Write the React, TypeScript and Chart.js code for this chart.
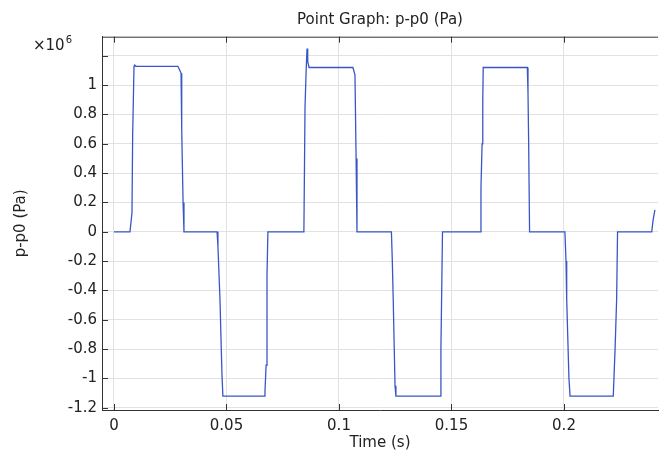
import React, { useEffect, useRef } from "react";
import { Chart, registerables } from "chart.js";

Chart.register(...registerables);

const times = [
  0, 0.0071, 0.008, 0.0083, 0.0089, 0.0093, 0.0098, 0.0284, 0.0293, 0.0298, 0.03, 0.0302, 0.0307, 0.0311,
  0.0458, 0.0462, 0.0471, 0.048, 0.0484, 0.0667, 0.0671, 0.0676, 0.068, 0.0684,
  0.0844, 0.0849, 0.0854, 0.0858, 0.0861, 0.0867, 0.1062, 0.1071, 0.1076, 0.108,
  0.1233, 0.1237, 0.1241, 0.1249, 0.1253, 0.1449, 0.1453, 0.1456, 0.146,
  0.1627, 0.1631, 0.1636, 0.1639, 0.1641, 0.1837, 0.184, 0.1843, 0.1847,
  0.2004, 0.2009, 0.2012, 0.2022, 0.2027, 0.2219, 0.2227, 0.2234, 0.2238,
  0.239, 0.2396, 0.2404,
];

const pressure = [
  0, 0, 130000, 660000, 1130000, 1135000, 1128000, 1128000, 1100000, 1080000, 720000, 700000, 200000, 0,
  0, -100000, -460000, -980000, -1120000, -1120000, -1090000, -910000, -300000, 0,
  0, 850000, 1100000, 1250000, 1160000, 1120000, 1120000, 1070000, 500000, 0,
  0, -200000, -460000, -1050000, -1120000, -1120000, -800000, -460000, 0,
  0, 300000, 600000, 900000, 1120000, 1120000, 950000, 600000, 0,
  0, -200000, -460000, -1000000, -1120000, -1120000, -800000, -460000, 0,
  0, 80000, 150000,
];

const xTicks = [0, 0.05, 0.1, 0.15, 0.2];
const yTicks = [-1200000, -1000000, -800000, -600000, -400000, -200000, 0, 200000, 400000, 600000, 800000, 1000000, 1200000];
const yLabelLimit = 1100000;

const titleText = "Point Graph: p-p0 (Pa)";
const xTitle = "Time (s)";
const yTitle = "p-p0 (Pa)";
const yMultiplier = "6";

const FONT = "'DejaVu Sans', sans-serif";
const TEXT = "#222";

const axisPlugin = {
  id: "comsolAxes",
  afterDatasetsDraw(chart: any) {
    const { ctx, chartArea, scales } = chart;
    const { left, right, top, bottom } = chartArea;
    ctx.save();
    ctx.strokeStyle = "#333";
    ctx.lineWidth = 1;
    ctx.beginPath();
    ctx.moveTo(left, top + 0.5);
    ctx.lineTo(right, top + 0.5);
    ctx.stroke();
    const tl = 6;
    ctx.beginPath();
    for (const v of xTicks) {
      const x = Math.round(scales.x.getPixelForValue(v)) + 0.5;
      ctx.moveTo(x, bottom);
      ctx.lineTo(x, bottom - tl);
      ctx.moveTo(x, top);
      ctx.lineTo(x, top + tl);
    }
    for (const v of yTicks) {
      const y = Math.round(scales.y.getPixelForValue(v)) + 0.5;
      ctx.moveTo(left, y);
      ctx.lineTo(left + tl, y);
    }
    ctx.stroke();
    ctx.fillStyle = TEXT;
    ctx.textBaseline = "alphabetic";
    ctx.textAlign = "left";
    ctx.font = "15px " + FONT;
    ctx.fillText("\u00d710", 33, 50);
    const w = ctx.measureText("\u00d710").width;
    ctx.font = "10px " + FONT;
    ctx.fillText(yMultiplier, 33 + w + 1, 43);
    ctx.restore();
  },
};

function fmtY(v: number) {
  const r = Math.round(v / 100000) / 10;
  return (r === 0 ? 0 : r).toString();
}

export default function App() {
  const ref = useRef<HTMLCanvasElement | null>(null);
  useEffect(() => {
    if (!ref.current) return;
    const data = times.map((t, i) => ({ x: t, y: pressure[i] }));
    const chart = new Chart(ref.current, {
      type: "line",
      data: {
        datasets: [
          {
            data,
            borderColor: "#3a56c6",
            borderWidth: 1.3,
            pointRadius: 0,
            fill: false,
            tension: 0,
          },
        ],
      },
      options: {
        animation: false,
        responsive: false,
        maintainAspectRatio: false,
        layout: { padding: { left: 0, right: 1, top: 0, bottom: 0 } },
        plugins: {
          legend: { display: false },
          tooltip: { enabled: false },
          title: {
            display: true,
            text: titleText,
            fullSize: false,
            color: TEXT,
            font: { family: FONT, size: 15, weight: "normal" },
            padding: { top: 11, bottom: 7.7 },
          },
        },
        scales: {
          x: {
            type: "linear",
            min: -0.00533,
            max: 0.24178,
            afterBuildTicks: (s: any) => {
              s.ticks = xTicks.map((v) => ({ value: v }));
            },
            afterFit: (s: any) => {
              s.height = 42;
            },
            grid: { color: "#e2e2e2", drawTicks: false },
            border: { display: true, color: "#333", width: 1 },
            ticks: {
              color: TEXT,
              font: { family: FONT, size: 15 },
              padding: 7,
              maxRotation: 0,
              autoSkip: false,
              callback: (v: any) => String(v),
            },
            title: {
              display: true,
              text: xTitle,
              color: TEXT,
              font: { family: FONT, size: 15 },
              padding: { top: 0, bottom: 0 },
            },
          },
          y: {
            type: "linear",
            min: -1215000,
            max: 1330000,
            afterBuildTicks: (s: any) => {
              s.ticks = yTicks.map((v) => ({ value: v }));
            },
            afterFit: (s: any) => {
              s.width = 102;
            },
            grid: { color: "#e2e2e2", drawTicks: false },
            border: { display: true, color: "#333", width: 1 },
            ticks: {
              color: TEXT,
              font: { family: FONT, size: 15 },
              padding: 5,
              autoSkip: false,
              callback: (v: any) => (Number(v) > yLabelLimit ? "" : fmtY(Number(v))),
            },
            title: {
              display: true,
              text: yTitle,
              color: TEXT,
              font: { family: FONT, size: 15 },
              padding: { top: 12, bottom: 0 },
            },
          },
        },
      },
      plugins: [axisPlugin],
    } as any);
    return () => chart.destroy();
  }, []);
  return (
    <div style={{ position: "fixed", left: 0, top: 0, width: 659, height: 452, background: "#fff" }}>
      <canvas ref={ref} width={659} height={452} style={{ width: 659, height: 452, display: "block" }} />
    </div>
  );
}
